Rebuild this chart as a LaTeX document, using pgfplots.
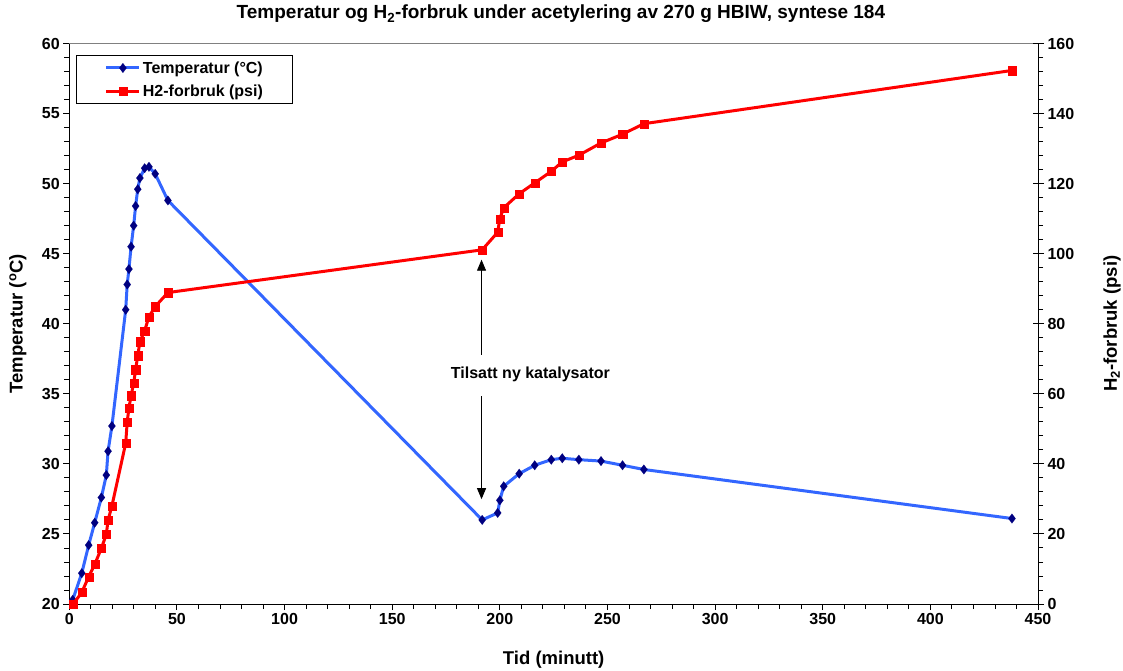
\documentclass[border=0pt]{standalone}
\usepackage{pgfplots}
\pgfplotsset{compat=1.18}
\usetikzlibrary{arrows.meta}
\usepackage{fontspec}
\setmainfont{Liberation Sans}
\definecolor{tblue}{RGB}{51,102,255}
\definecolor{tnavy}{RGB}{0,0,128}
\definecolor{hred}{RGB}{255,0,0}
\pgfplotsset{
  common/.style={
    scale only axis, width=968.7pt, height=560.5pt,
    xmin=0, xmax=450,
    clip=false,
    tick align=outside,
    major tick length=6pt, minor tick length=5pt,
    every tick/.style={black, line width=0.9pt},
    axis line style={line width=0.9pt},
    ticklabel style={font=\fontsize{16}{16}\selectfont\bfseries},
    /pgf/number format/assume math mode=true,
    label style={font=\fontsize{18.5}{18.5}\selectfont\bfseries},
    title style={font=\fontsize{19}{19}\selectfont\bfseries},
    legend style={font=\fontsize{16}{16}\selectfont\bfseries},
  },
  tstyle/.style={color=tblue, line width=3pt, mark=diamond*, mark size=4.8pt,
    mark options={fill=tnavy, draw=tnavy, line width=0.1pt}},
  hstyle/.style={color=hred, line width=3pt, mark=square*, mark size=4.1pt,
    mark options={fill=hred, draw=hred, line width=0.1pt}},
}
\begin{document}
\begin{tikzpicture}
\begin{axis}[common,
  ymin=20, ymax=60,
  axis x line*=bottom, axis y line*=left,
  xtick={0,50,...,450}, minor x tick num=4,
  ytick={20,25,...,60}, minor y tick num=4,
  xlabel={Tid (minutt)},
  ylabel={Temperatur (\textsuperscript{o}C)},
  xlabel style={at={(axis description cs:0.5,-0.0999)}, anchor=center},
  ylabel style={at={(axis description cs:-0.0532,0.5)}, anchor=center},
  title={Temperatur og H\textsubscript{2}-forbruk under acetylering av 270 g HBIW, syntese 184},
  title style={at={(axis description cs:0.5075,1.0419)}, anchor=center},
]
\draw[gray, line width=0.9pt] (rel axis cs:0,1) -- (rel axis cs:1,1);
\addplot[tstyle] coordinates {
(1.6,20.3) (5.8,22.2) (9.0,24.2) (11.8,25.8) (14.9,27.6) (17.2,29.2) (18.0,30.9) (19.8,32.7)
(26.2,41.0) (26.9,42.8) (27.7,43.9) (28.7,45.5) (29.9,47.0) (30.8,48.4) (31.8,49.6) (32.8,50.4)
(35.0,51.1) (37.0,51.2) (39.9,50.7) (45.8,48.8)
(191.8,26.0) (199.0,26.5) (200.0,27.4) (201.8,28.4) (209.0,29.3) (216.2,29.9) (223.9,30.3)
(229.0,30.4) (236.7,30.3) (247.0,30.2) (257.0,29.9) (266.9,29.6) (437.9,26.1)
};
\draw[-{Stealth[length=11pt,width=9pt,inset=0pt]}, line width=0.9pt] (axis cs:191.5,37.79) -- (axis cs:191.5,44.57);
\draw[-{Stealth[length=11pt,width=9pt,inset=0pt]}, line width=0.9pt] (axis cs:191.5,34.81) -- (axis cs:191.5,27.48);
\node[font=\fontsize{16}{16}\selectfont\bfseries] at (axis cs:214.2,36.36) {Tilsatt ny katalysator};
\end{axis}
\begin{axis}[common,
  ymin=0, ymax=160,
  axis x line=none, axis y line*=right,
  ytick={0,20,...,160}, minor y tick num=4,
  extra y ticks={0,20,...,160}, extra y tick labels={},
  extra y tick style={tick align=inside, major tick length=5pt},
  ylabel={H\textsubscript{2}-forbruk (psi)},
  ylabel style={at={(axis description cs:1.0764,0.5)}, anchor=center},
  legend style={at={(axis description cs:0.0074,0.9795)}, anchor=north west,
    draw=black, line width=0.9pt, inner xsep=28pt, inner ysep=4pt, row sep=6pt},
  legend cell align=left,
  legend image code/.code={\draw[mark repeat=2,mark phase=2] plot coordinates {(0pt,0pt) (16.5pt,0pt) (33pt,0pt)};},
]
\addlegendimage{tstyle}
\addlegendentry{Temperatur (°C)}
\addplot[hstyle] coordinates {
(1.8,0) (5.8,3.3) (9.0,7.8) (11.8,11.3) (14.9,15.9) (17.2,19.9) (18.0,23.9) (19.8,28.0)
(26.2,45.9) (26.9,52.0) (27.7,55.9) (28.7,59.5) (29.9,63.0) (30.8,66.9) (31.8,70.9) (32.8,74.9)
(35.0,78.0) (37.0,82.0) (39.9,84.9) (45.8,88.9)
(191.8,101.1) (199.0,106.1) (200.0,110.0) (201.8,113.1) (209.0,117.1) (216.2,120.2) (223.9,123.5)
(229.0,126.2) (236.7,128.1) (247.0,131.6) (257.0,134.1) (266.9,137.1) (437.9,152.3)
};
\addlegendentry{H2-forbruk (psi)}
\end{axis}
\pgfresetboundingbox
\path (-69.3pt,-67pt) rectangle (1053.7pt,604pt);
\end{tikzpicture}
\end{document}
